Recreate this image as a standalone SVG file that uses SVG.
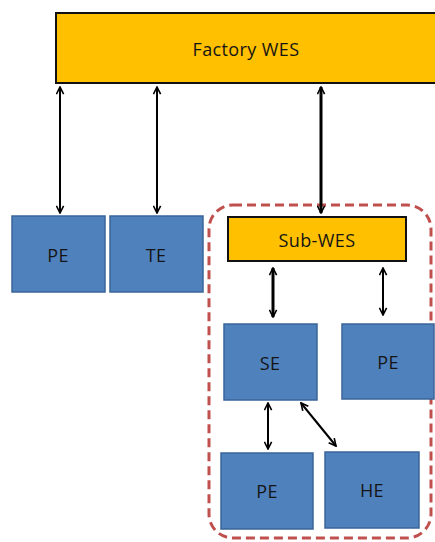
<svg xmlns="http://www.w3.org/2000/svg" width="435" height="542" viewBox="0 0 435 542">
<defs>
<marker id="ah" viewBox="0 0 10 10" refX="9" refY="5" markerWidth="9" markerHeight="9" markerUnits="userSpaceOnUse" orient="auto-start-reverse">
<path d="M1,1 L9,5 L1,9" fill="none" stroke="#000" stroke-width="1.8"/>
</marker>
<style>
.wes{fill:#FFC000;stroke:#111;stroke-width:2}
.blk{fill:#4F81BD;stroke:#3A6599;stroke-width:1.5}
.t{font-family:"Open Sans","Liberation Sans",sans-serif;font-size:18px;letter-spacing:0.4px;fill:#151515;text-anchor:middle;dominant-baseline:central}
.c{stroke:#000;stroke-width:2;fill:none;marker-start:url(#ah);marker-end:url(#ah)}
.c3{stroke:#000;stroke-width:3;fill:none;marker-start:url(#ah);marker-end:url(#ah)}
</style>
</defs>
<rect width="435" height="542" fill="#fff"/>
<g id="group">
<rect x="209" y="205" width="222" height="333" rx="24" fill="none" stroke="#C0504D" stroke-width="3" stroke-dasharray="9,5"/>
</g>
<g id="factory-wes"><rect class="wes" x="56" y="13" width="385" height="70"/><text class="t" x="246" y="49">Factory WES</text></g>
<g id="pe1"><rect class="blk" x="12" y="216" width="93" height="76"/><text class="t" x="58" y="255">PE</text></g>
<g id="te"><rect class="blk" x="110" y="216" width="93" height="76"/><text class="t" x="156" y="255">TE</text></g>
<g id="sub-wes"><rect class="wes" x="228" y="217" width="178" height="44"/><text class="t" x="317" y="240">Sub-WES</text></g>
<g id="se"><rect class="blk" x="224" y="324" width="93" height="76"/><text class="t" x="270" y="363">SE</text></g>
<g id="pe2"><rect class="blk" x="342" y="324" width="92" height="75"/><text class="t" x="388" y="362">PE</text></g>
<g id="pe3"><rect class="blk" x="221" y="453" width="92" height="76"/><text class="t" x="267" y="491">PE</text></g>
<g id="he"><rect class="blk" x="325" y="452" width="94" height="76"/><text class="t" x="372" y="490">HE</text></g>
<g id="connectors">
<line class="c" x1="60" y1="87" x2="60" y2="213"/>
<line class="c" x1="157" y1="87" x2="157" y2="213"/>
<line class="c3" x1="321" y1="87" x2="321" y2="213"/>
<line class="c3" x1="273" y1="268" x2="273" y2="317"/>
<line class="c" x1="383" y1="268" x2="383" y2="315"/>
<line class="c" x1="268" y1="403" x2="268" y2="449"/>
<line class="c" x1="301" y1="403" x2="336" y2="446"/>
</g>
</svg>
